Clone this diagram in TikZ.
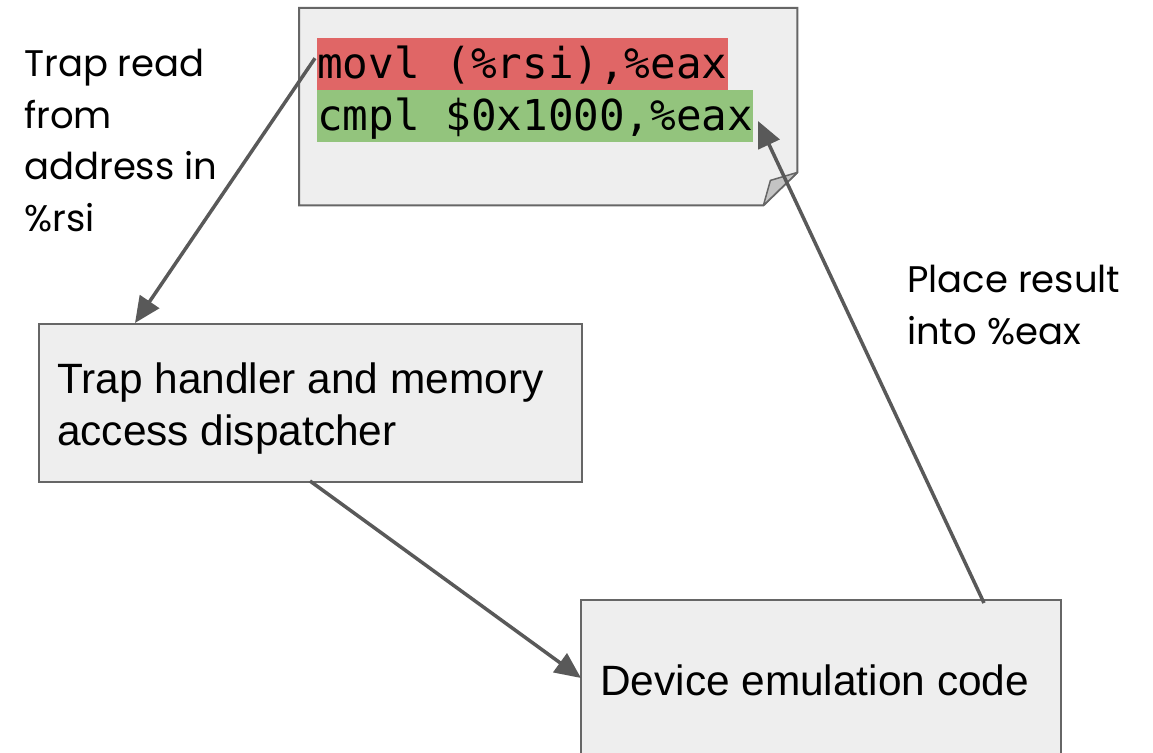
\documentclass[tikz,border=0pt]{standalone}
\usepackage{fontspec}
\setmainfont{Liberation Sans}
\newfontfamily\labelfont{Poppins}
\newfontfamily\codefont{DejaVu Sans Mono}
\usetikzlibrary{arrows.meta}
\definecolor{boxfill}{HTML}{EEEEEE}
\definecolor{boxline}{HTML}{666666}
\definecolor{arrowline}{HTML}{595959}
\definecolor{hlred}{HTML}{E06666}
\definecolor{hlgreen}{HTML}{93C47D}
\definecolor{flapfill}{HTML}{C4C4C4}
\tikzset{
  x=1pt, y=-1pt,
  panel/.style={draw=boxline, fill=boxfill, line width=2pt, rectangle, inner sep=0pt},
  boxtext/.style={font=\fontsize{42.4}{52}\selectfont, align=left, inner sep=0pt, anchor=base west},
  note/.style={font=\labelfont\fontsize{37}{51.5}\selectfont, align=left, inner sep=0pt, anchor=base west},
  codeline/.style={font=\codefont\fontsize{42.6}{52}\selectfont, inner xsep=0pt, inner ysep=0pt,
    text height=40pt, text depth=12pt, anchor=north west},
  flow/.style={draw=arrowline, line width=3.5pt, -{Triangle[length=26pt,width=23pt]}},
}
\begin{document}
\begin{tikzpicture}
\useasboundingbox (0,0) rectangle (1153,752);

% code listing with a folded lower-right corner
\node[inner sep=0pt, minimum width=498pt, minimum height=197pt, anchor=north west] (code) at (299,8) {};
\draw[draw=boxline, fill=boxfill, line width=2pt]
  (code.north west) -- (code.north east) -- ([yshift=33pt]code.south east)
  -- ([xshift=-34pt]code.south east) -- (code.south west) -- cycle;
\draw[draw=boxline, fill=flapfill, line width=1.5pt, line join=round]
  ([xshift=-34pt]code.south east) -- ([xshift=-27pt,yshift=25pt]code.south east)
  -- ([yshift=33pt]code.south east) -- cycle;
\node[codeline, fill=hlred] (movl) at (317,38) {movl (\%rsi),\%eax};
\node[codeline, fill=hlgreen] (cmpl) at (317,90) {cmpl \$0x1000,\%eax};

% processing stages
\node[panel, minimum width=543pt, minimum height=158pt, anchor=north west] (trap) at (38,323) {};
\node[boxtext] (traptext) at (57,445) {Trap handler and memory\\access dispatcher};

\draw[draw=boxline, fill=boxfill, line width=2pt] (581,600) rectangle (1061,780);
\coordinate (dev) at (581,600);
\node[boxtext] (devtext) at (600,695) {Device emulation code};

% step labels (anchored at the baseline of their last line)
\node[note] (readnote) at (24,231) {Trap read\\from\\address in\\\%rsi};
\node[note] (resultnote) at (907,344) {Place result\\into \%eax};

% connection points
\coordinate (trapin) at (135,323);
\coordinate (trapout) at (310,481);
\coordinate (devin) at (581,678);
\coordinate (devout) at (984,603);
\coordinate (eaxin) at (758,121);

\draw[flow] ([xshift=-2pt,yshift=6pt]movl.west) -- (trapin);
\draw[flow] (trapout) -- (devin);
\draw[flow] (devout) -- (eaxin);
\end{tikzpicture}
\end{document}
